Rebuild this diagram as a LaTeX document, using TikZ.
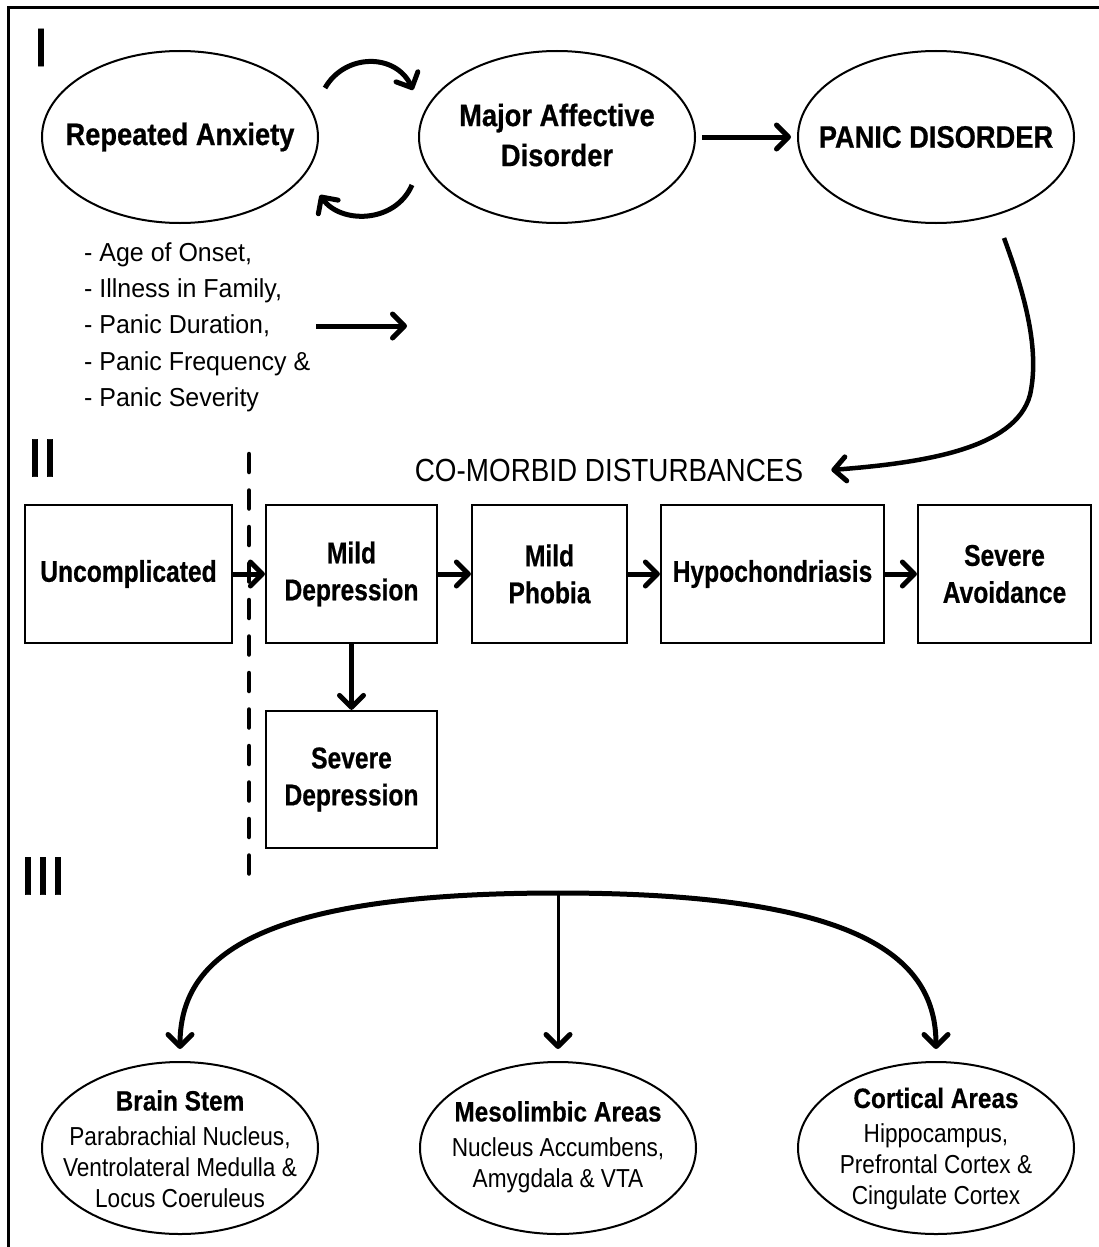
\documentclass[tikz,border=0pt]{standalone}
\usepackage{fontspec}
\setmainfont{Liberation Sans}
\newfontfamily\fa{Liberation Sans}[FakeStretch=0.88, BoldFeatures={FakeBold=0.6}]
\newfontfamily\fb{Liberation Sans}[FakeStretch=0.82, BoldFeatures={FakeBold=0.6}]
\newfontfamily\fc{Liberation Sans}[FakeStretch=0.87, BoldFeatures={FakeBold=0.4}]
\newfontfamily\fd{Liberation Sans}[FakeStretch=0.96]
\newfontfamily\fr{Liberation Sans}[FakeBold=1.2]
\usetikzlibrary{shapes.geometric,arrows.meta,calc}
\begin{document}
\begin{tikzpicture}[x=1pt,y=-1pt,
  ell/.style={draw, ellipse, line width=2pt, minimum width=276pt, minimum height=172pt, inner sep=0pt},
  etext/.style={font=\fa\bfseries\fontsize{31}{40}\selectfont, align=center, inner sep=0pt},
  stbox/.style={draw, line width=2.2pt, minimum height=138pt, inner sep=0pt,
    font=\fb\bfseries\fontsize{30}{37}\selectfont, align=center},
  btext/.style={font=\fc\fontsize{26}{31}\selectfont, align=center, inner sep=0pt},
  roman/.style={font=\fr\fontsize{54}{54}\selectfont, inner sep=0pt},
  tipb/.tip={Straight Barb[length=12pt,width=24pt,round,line width=5pt]},
  arr/.style={line width=5pt, -tipb},
]
\useasboundingbox (0,0) rectangle (1099,1247);
% frame (top and left only)
\coordinate (fbl) at (8,1247);
\coordinate (ftl) at (8,8);
\coordinate (ftr) at (1099,8);
\draw[line width=3pt] (fbl) -- (ftl) -- (ftr);

% section labels
\node[roman] (s1) at (41,47.5) {I};
\node[roman] (s2) at (42.5,458) {II};
\node[roman] (s3) at (43,876) {III};

% section I
\node[ell] (ra) at (180,137) {};
\node[etext] (rat) at (ra) {Repeated Anxiety};
\node[ell] (ma) at (557,137) {};
\node[etext] (mat) at (557,135) {Major Affective\\Disorder};
\node[ell] (pd) at (936,137) {};
\node[etext] (pdt) at (pd) {PANIC DISORDER};

\coordinate (c1s) at (325,88);
\coordinate (c1e) at (413,90);
\coordinate (c2s) at (412,185);
\coordinate (c2e) at (320,195);
\draw[arr] (c1s) .. controls (345,53) and (396,53) .. (c1e);
\draw[arr] (c2s) .. controls (395,224) and (340,224) .. (c2e);
\draw[arr] ([xshift=6pt]ma.east) -- ([xshift=-6pt]pd.west);

\node[font=\fd\fontsize{26}{36.3}\selectfont, align=left, inner sep=0pt, anchor=west] (lst) at (84,327)
  {- Age of Onset,\\- Illness in Family,\\- Panic Duration,\\- Panic Frequency \&\\- Panic Severity};
\coordinate (lststart) at (316,326);
\coordinate (lstend) at (407,326);
\draw[arr] (lststart) -- (lstend);

% section II
\node[font=\fc\fontsize{32}{32}\selectfont, inner sep=0pt] (cm) at (609,470) {CO-MORBID DISTURBANCES};
\coordinate (pdout) at (1004,238);
\coordinate (cmin) at ([xshift=28pt]cm.east);
\draw[line width=4.5pt, -tipb]
  (pdout) .. controls (1025,295) and (1040,350) .. (1030,395)
  .. controls (1015,450) and (920,463) .. (cmin);

\coordinate (dtop) at (249,454);
\coordinate (dbot) at (249,878);
\draw[line width=4.5pt, line cap=round, dash pattern=on 18pt off 18.5pt] (dtop) -- (dbot);

\node[stbox, minimum width=207pt] (unc) at (128.5,574) {Uncomplicated};
\node[stbox, minimum width=171pt] (mdep) at (351.5,574) {Mild\\Depression};
\node[stbox, minimum width=155pt] (mpho) at (549.5,574) {Mild\\Phobia};
\node[stbox, minimum width=223pt] (hypo) at (772.5,574) {Hypochondriasis};
\node[stbox, minimum width=173pt] (savo) at (1004.5,574) {Severe\\Avoidance};
\node[stbox, minimum width=171pt, minimum height=137pt] (sdep) at (351.5,779.5) {Severe\\Depression};

\draw[arr] (unc.east) -- (mdep.west);
\draw[arr] (mdep.east) -- (mpho.west);
\draw[arr] (mpho.east) -- (hypo.west);
\draw[arr] (hypo.east) -- (savo.west);
\draw[arr] (mdep.south) -- (sdep.north);

% section III
\node[ell] (bs) at (180,1148) {};
\node[btext] (bst) at (180,1149)
  {{\bfseries\fontsize{28}{31}\selectfont Brain Stem}\\[4pt]Parabrachial Nucleus,\\Ventrolateral Medulla \&\\Locus Coeruleus};
\node[ell] (ml) at (558,1148) {};
\node[btext] (mlt) at (558,1147)
  {{\bfseries\fontsize{28}{31}\selectfont Mesolimbic Areas}\\[4pt]Nucleus Accumbens,\\Amygdala \& VTA};
\node[ell] (ca) at (936,1148) {};
\node[btext] (cat) at (936,1149)
  {{\bfseries\fontsize{28}{31}\selectfont Cortical Areas}\\[4pt]Hippocampus,\\Prefrontal Cortex \&\\Cingulate Cortex};

\coordinate (tt) at (558,893);
\draw[arr] (tt) .. controls (250,893) and (180,960) .. ([yshift=12pt]bs.north);
\draw[arr] (tt) .. controls (866,893) and (936,960) .. ([yshift=12pt]ca.north);
\draw[arr, line width=3pt] (tt) -- ([yshift=12pt]ml.north);
\end{tikzpicture}
\end{document}
